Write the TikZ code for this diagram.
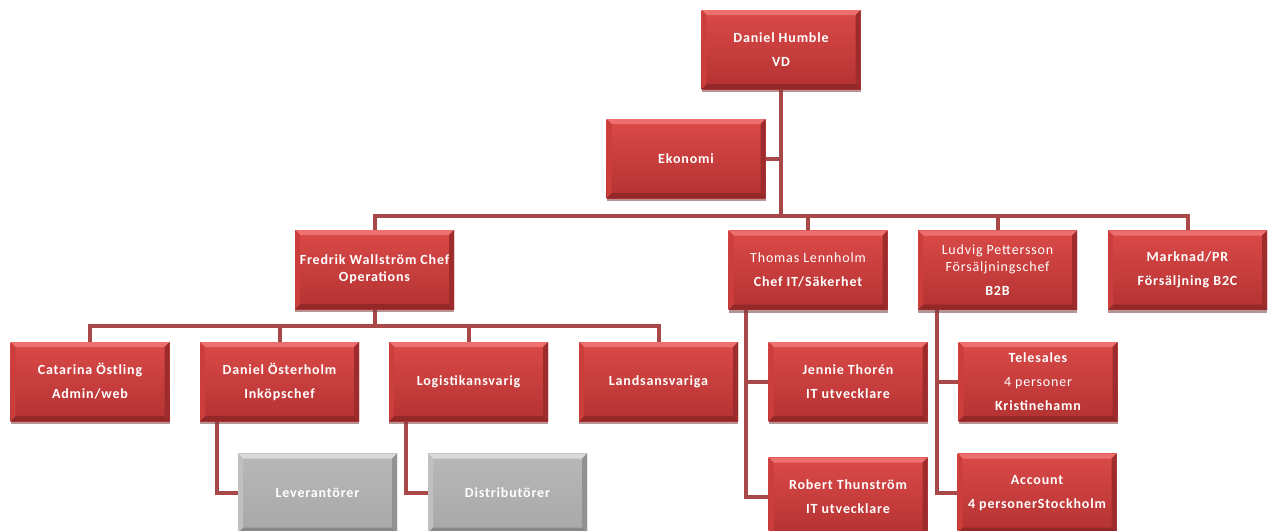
\documentclass[tikz,border=0pt]{standalone}
\usepackage{fontspec}
\setmainfont[LetterSpace=6]{Carlito}
\usetikzlibrary{calc,shadows,backgrounds}

\definecolor{rtop}{RGB}{218,74,72}
\definecolor{rbot}{RGB}{180,50,50}
\definecolor{rhi}{RGB}{238,112,110}
\definecolor{rlo}{RGB}{146,40,40}
\definecolor{rrt}{RGB}{158,44,44}
\definecolor{rlt}{RGB}{204,62,60}
\definecolor{gtop}{RGB}{184,184,184}
\definecolor{gbot}{RGB}{168,168,168}
\definecolor{ghi}{RGB}{218,218,218}
\definecolor{glo}{RGB}{136,136,136}
\definecolor{grt}{RGB}{146,146,146}
\definecolor{glt}{RGB}{192,192,192}
\definecolor{shadowc}{RGB}{120,60,60}
\definecolor{connc}{RGB}{168,72,72}

\tikzset{
  bevel/.style n args={4}{path picture={
    \path (path picture bounding box.north west) coordinate (pa)
          (path picture bounding box.north east) coordinate (pb)
          (path picture bounding box.south east) coordinate (pc)
          (path picture bounding box.south west) coordinate (pd);
    \fill[#1] (pa) -- (pb) -- ([shift={(-5pt,-5pt)}]pb) -- ([shift={(5pt,-5pt)}]pa) -- cycle;
    \fill[#2] (pd) -- (pc) -- ([shift={(-5pt,5pt)}]pc) -- ([shift={(5pt,5pt)}]pd) -- cycle;
    \fill[#3] (pb) -- (pc) -- ([shift={(-5pt,5pt)}]pc) -- ([shift={(-5pt,-5pt)}]pb) -- cycle;
    \fill[#4] (pa) -- (pd) -- ([shift={(5pt,5pt)}]pd) -- ([shift={(5pt,-5pt)}]pa) -- cycle;
  }},
  box/.style={rectangle, minimum width=159pt, minimum height=79pt, inner sep=0pt,
    align=center, text=white, font=\fontsize{14}{24}\selectfont\bfseries,
    drop shadow={shadow xshift=0pt, shadow yshift=-3pt, fill=shadowc, opacity=.55}},
  redbox/.style={box, top color=rtop, bottom color=rbot, bevel={rhi}{rlo}{rrt}{rlt}},
  graybox/.style={box, top color=gtop, bottom color=gbot, bevel={ghi}{glo}{grt}{glt}},
  conn/.style={draw=connc, line width=4pt},
}

\begin{document}
\begin{tikzpicture}[x=1pt, y=-1pt]
\useasboundingbox (0,0) rectangle (1276,530);

% top management
\node[redbox] (hum)  at (781,49.5)   {Daniel Humble\\VD};
\node[redbox] (eko)  at (686,158.5)  {Ekonomi};

% department heads
\node[redbox] (fred) at (374.5,269.5) {Fredrik Wallström Chef\\[-7pt]Operations};
\node[redbox] (thom) at (808,270)     {\mdseries Thomas Lennholm\\Chef IT/Säkerhet};
\node[redbox] (lud)  at (997.5,270)   {\mdseries Ludvig Pettersson\\[-7pt]\mdseries Försäljningschef\\B2B};
\node[redbox] (mark) at (1187.5,270)  {Marknad/PR\\Försäljning B2C};

% operations staff
\node[redbox] (cat)  at (90,381.5)    {Catarina Östling\\Admin/web};
\node[redbox] (dano) at (279.5,381.5) {Daniel Österholm\\Inköpschef};
\node[redbox] (log)  at (468.5,381.5) {Logistikansvarig};
\node[redbox] (land) at (658.5,381.5) {Landsansvariga};

% external partners
\node[graybox] (lev)  at (317.5,493)  {Leverantörer};
\node[graybox] (dist) at (507.5,493)  {Distributörer};

% IT staff
\node[redbox] (jen)  at (848,381.5)   {Jennie Thorén\\IT utvecklare};
\node[redbox] (rob)  at (848,497)     {Robert Thunström\\IT utvecklare};

% sales staff
\node[redbox] (tel)  at (1038,381.5)  {Telesales\\\mdseries 4 personer\\Kristinehamn};
\node[redbox] (acc)  at (1037,493)    {Account\\4 personerStockholm};

\begin{scope}[on background layer]
  % first level
  \path (fred.north) ++(0,-14) coordinate (j1);
  \draw[conn] (fred.north) -- (j1) -| (mark.north);
  \draw[conn] (hum.south) -- (hum.south |- j1);
  \draw[conn] (thom.north) -- (thom.north |- j1);
  \draw[conn] (lud.north) -- (lud.north |- j1);
  \draw[conn] (eko.east) -- (eko.east -| hum.south);
  % operations level
  \path (cat.north) ++(0,-16) coordinate (j2);
  \draw[conn] (cat.north) -- (j2) -| (land.north);
  \draw[conn] (fred.south) -- (fred.south |- j2);
  \draw[conn] (dano.north) -- (dano.north |- j2);
  \draw[conn] (log.north) -- (log.north |- j2);
  % partners
  \draw[conn] ([xshift=17pt]dano.south west) |- (lev.west);
  \draw[conn] ([xshift=17pt]log.south west) |- (dist.west);
  % IT
  \coordinate (tv) at ([xshift=18pt]thom.south west);
  \draw[conn] (tv) |- (rob.west);
  \draw[conn] (jen.west) -- (jen.west -| tv);
  % sales
  \coordinate (lv) at ([xshift=19pt]lud.south west);
  \draw[conn] (lv) |- (acc.west);
  \draw[conn] (tel.west) -- (tel.west -| lv);
\end{scope}
\end{tikzpicture}
\end{document}
